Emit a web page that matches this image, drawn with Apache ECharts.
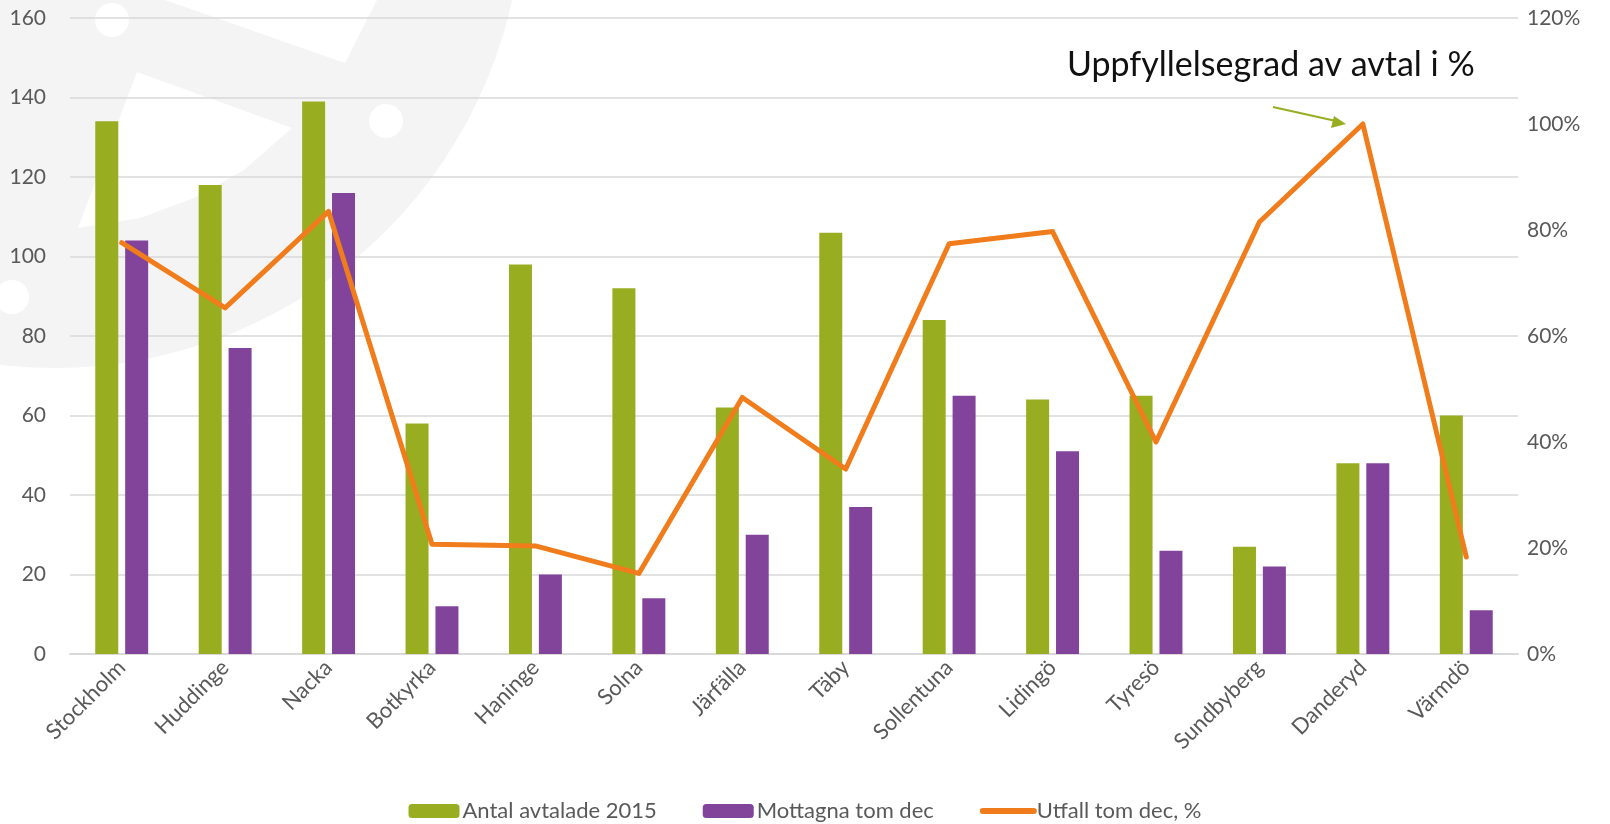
<!DOCTYPE html>
<html>
<head>
<meta charset="utf-8">
<script src="https://cdn.jsdelivr.net/npm/echarts@6/dist/echarts.min.js"></script>
<style>
  html, body { margin: 0; padding: 0; background: #fff; }
  #chart { width: 1610px; height: 824px; }
</style>
</head>
<body>
<div id="chart"></div>
<script>
// kommuner
var kommuner = ['Stockholm', 'Huddinge', 'Nacka', 'Botkyrka', 'Haninge', 'Solna', 'Järfälla',
  'Täby', 'Sollentuna', 'Lidingö', 'Tyresö', 'Sundbyberg', 'Danderyd', 'Värmdö'];

// staplar
var antalAvtalade = [134, 118, 139, 58, 98, 92, 62, 106, 84, 64, 65, 27, 48, 60];
var mottagna = [104, 77, 116, 12, 20, 14, 30, 37, 65, 51, 26, 22, 48, 11];

// linje (andel, högra axeln)
var utfall = [0.776, 0.653, 0.835, 0.207, 0.204, 0.152, 0.484, 0.349, 0.774, 0.797, 0.40, 0.815, 1.0, 0.183];

var serieNamn = ['Antal avtalade 2015', 'Mottagna tom dec', 'Utfall tom dec, %'];
var rubrik = 'Uppfyllelsegrad av avtal i %';

var chart = echarts.init(document.getElementById('chart'));

var textFont = 'Lato, "Liberation Sans", sans-serif';
var watermark = '#f4f4f4';
var orange = '#f07c1b';

var option = {
  backgroundColor: '#ffffff',
  textStyle: { fontFamily: textFont },
  animation: false,

  // bakgrundslogga + rubrik med pil
  graphic: [
    {
      type: 'group', z: -10, silent: true,
      children: [
        { type: 'circle', shape: { cx: 55, cy: -100, r: 468 }, style: { fill: watermark } },
        { type: 'polygon', shape: { points: [[165, 0], [345, 63], [377, 0]] }, style: { fill: '#fff' } },
        { type: 'polygon', shape: { points: [[137, 72], [292, 128], [244, 170], [194, 198], [140, 218], [78, 228]] }, style: { fill: '#fff' } },
        { type: 'circle', shape: { cx: 112, cy: 20, r: 17 }, style: { fill: '#fff' } },
        { type: 'circle', shape: { cx: 386, cy: 121, r: 17 }, style: { fill: '#fff' } },
        { type: 'circle', shape: { cx: 12, cy: 297, r: 17 }, style: { fill: '#fff' } }
      ]
    },
    {
      type: 'text', left: 1067, top: 48, z: 10,
      style: { text: rubrik, fontSize: 34, fill: '#111', fontFamily: textFont }
    },
    {
      type: 'line', z: 10,
      shape: { x1: 1273, y1: 107, x2: 1336, y2: 121 },
      style: { stroke: '#99ad21', lineWidth: 2 }
    },
    {
      type: 'polygon', z: 10,
      shape: { points: [[1346, 124], [1331, 128], [1334, 116]] },
      style: { fill: '#99ad21' }
    }
  ],

  legend: {
    data: [
      serieNamn[0],
      serieNamn[1],
      { name: serieNamn[2], itemStyle: { opacity: 0 }, lineStyle: { width: 6, cap: 'round' } }
    ],
    left: 'center',
    top: 795,
    itemWidth: 51,
    itemHeight: 14,
    itemGap: 46,
    textStyle: { fontSize: 22, color: '#595959', padding: [0, 0, 0, -2] }
  },

  grid: { left: 70, right: 92, top: 18, bottom: 170 },

  xAxis: {
    type: 'category',
    data: kommuner,
    axisTick: { show: false },
    axisLine: { lineStyle: { color: '#d9d9d9', width: 2 } },
    axisLabel: { rotate: 45, interval: 0, fontSize: 22, color: '#595959', margin: 10 }
  },

  yAxis: [
    {
      type: 'value', min: 0, max: 160, interval: 20,
      axisLine: { show: false }, axisTick: { show: false },
      axisLabel: { fontSize: 21, color: '#595959', margin: 24 },
      splitLine: { lineStyle: { color: '#d9d9d9', width: 1.5 } }
    },
    {
      type: 'value', min: 0, max: 1.2, interval: 0.2,
      axisLine: { show: false }, axisTick: { show: false },
      splitLine: { show: false },
      axisLabel: {
        fontSize: 21, color: '#595959', margin: 9,
        formatter: function (v) { return Math.round(v * 100) + '%'; }
      }
    }
  ],

  series: [
    {
      name: serieNamn[0], type: 'bar', data: antalAvtalade,
      barWidth: 23, barGap: '30%',
      itemStyle: { color: '#99ad21' }
    },
    {
      name: serieNamn[1], type: 'bar', data: mottagna,
      barWidth: 23,
      itemStyle: { color: '#82449b' }
    },
    {
      name: serieNamn[2], type: 'line', data: utfall, yAxisIndex: 1,
      symbol: 'none', z: 5,
      lineStyle: { color: orange, width: 5, cap: 'round', join: 'round' },
      itemStyle: { color: orange }
    }
  ]
};

chart.setOption(option);
</script>
</body>
</html>
